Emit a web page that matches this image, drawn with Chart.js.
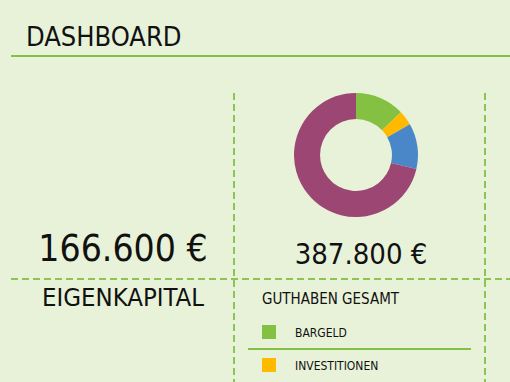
<!DOCTYPE html>
<html><head><meta charset="utf-8">
<script src="https://cdn.jsdelivr.net/npm/chart.js@4"></script>
<style>
html,body{margin:0;padding:0;}
body{width:510px;height:382px;background:#E8F2D9;position:relative;overflow:hidden;font-family:"DejaVu Sans Condensed","DejaVu Sans",sans-serif;color:#111;}
.t{position:absolute;white-space:nowrap;line-height:1;}
#title{left:26px;top:23px;font-size:27px;}
#hline{position:absolute;left:11px;top:55px;width:499px;height:2px;background:#84C043;}
.vd{position:absolute;top:93px;width:2px;height:289px;background:repeating-linear-gradient(to bottom,#8DC555 0 7px,transparent 7px 11px);}
#hd{position:absolute;left:11px;top:278px;width:499px;height:2px;background:repeating-linear-gradient(to right,#8DC555 0 7px,transparent 7px 11px);}
#v1{left:233px;} #v2{left:484px;}
#eq{left:0;width:246px;text-align:center;top:230px;font-size:37px;}
#tot{left:248px;width:226px;text-align:center;top:240px;font-size:29px;}
#ek{left:0;width:246px;text-align:center;top:285px;font-size:25.5px;}
#gg{left:262px;top:292px;font-size:15px;}
.sw{position:absolute;width:14px;height:14px;}
.lg{font-size:12px;}
#sep{position:absolute;left:248px;top:348px;width:223px;height:2px;background:#84C043;}
#c{position:absolute;left:294px;top:93px;}
</style></head><body>
<div id="title" class="t">DASHBOARD</div>
<div id="hline"></div>
<div id="v1" class="vd"></div><div id="v2" class="vd"></div>
<div id="hd"></div>
<div id="eq" class="t"></div>
<div id="tot" class="t"></div>
<div id="ek" class="t">EIGENKAPITAL</div>
<div id="gg" class="t">GUTHABEN GESAMT</div>
<div id="legend"></div>
<div id="sep"></div>
<canvas id="c" width="124" height="124"></canvas>
<script>
const categories = ["BARGELD","INVESTITIONEN","IMMOBILIEN","SONSTIGES"];
const values = [50000, 15000, 46000, 276800];
const colors = ["#84C142","#FFBA00","#4A87C8","#9C4773"];
const equity = 166600;
const legendShown = 2;

const fmt = v => v.toLocaleString('de-DE') + ' €';
document.getElementById('eq').textContent = fmt(equity);
document.getElementById('tot').textContent = fmt(values.reduce((a,b)=>a+b,0));

const lg = document.getElementById('legend');
for (let i=0;i<legendShown;i++){
  const top = 325 + i*33;
  const s = document.createElement('div'); s.className='sw';
  s.style.left='262px'; s.style.top=top+'px'; s.style.background=colors[i];
  lg.appendChild(s);
  const t = document.createElement('div'); t.className='t lg';
  t.style.left='295px'; t.style.top=(top+2)+'px'; t.textContent=categories[i];
  lg.appendChild(t);
}

new Chart(document.getElementById('c'), {
  type:'doughnut',
  data:{labels:categories,datasets:[{data:values,backgroundColor:colors,borderWidth:0}]},
  options:{responsive:false,animation:false,cutout:'58%',layout:{padding:0},
    plugins:{legend:{display:false},tooltip:{enabled:false}}}
});
</script>
</body></html>
